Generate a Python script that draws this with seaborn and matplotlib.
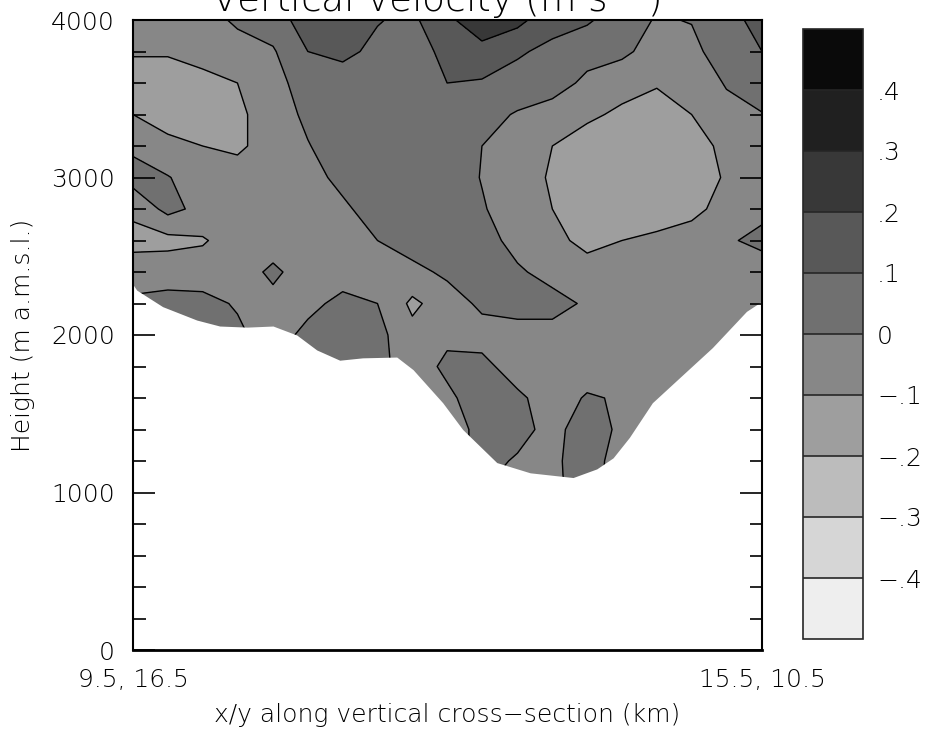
import numpy as np
import matplotlib
matplotlib.use("Agg")
import matplotlib.pyplot as plt
from matplotlib import font_manager
import seaborn as sns

# distance along the section (km) for the field columns
dist_km = [0.0, 0.47, 0.94, 1.41, 1.89, 2.36, 2.83, 3.30, 3.77, 4.24,
           4.71, 5.19, 5.66, 6.13, 6.60, 7.07, 7.54, 8.01, 8.49]
# heights of the field rows (m), bottom to top
height_m = [1000, 1200, 1400, 1600, 1800, 2000, 2200, 2400,
            2600, 2800, 3000, 3200, 3400, 3600, 3800, 4000]

# vertical velocity (m/s), rows listed from 4000 m down to 1000 m
w_4000 = [-0.05, -0.05, -0.05, 0.02, 0.05, 0.15, 0.17, 0.105, 0.08, 0.18, 0.26, 0.23, 0.13, 0.11, 0.06, -0.01, 0.005, 0.07, 0.13]
w_3800 = [-0.09, -0.09, -0.05, -0.05, -0.01, 0.10, 0.12, 0.08, 0.05, 0.13, 0.17, 0.11, 0.08, 0.05, 0.02, -0.04, -0.03, 0.06, 0.10]
w_3600 = [-0.15, -0.15, -0.14, -0.10, -0.03, 0.04, 0.06, 0.06, 0.07, 0.10, 0.09, 0.07, 0.06, -0.03, -0.06, -0.09, -0.08, 0.01, 0.06]
w_3400 = [-0.10, -0.15, -0.15, -0.12, -0.05, 0.02, 0.06, 0.07, 0.07, 0.07, 0.04, -0.01, -0.06, -0.08, -0.12, -0.15, -0.10, -0.04, -0.005]
w_3200 = [-0.02, -0.07, -0.10, -0.12, -0.05, -0.005, 0.05, 0.07, 0.07, 0.06, 0.0, -0.05, -0.10, -0.15, -0.15, -0.15, -0.15, -0.07, -0.03]
w_3000 = [0.04, 0.005, -0.05, -0.05, -0.05, -0.04, 0.03, 0.06, 0.07, 0.06, -0.005, -0.06, -0.11, -0.15, -0.15, -0.15, -0.15, -0.09, -0.05]
w_2800 = [-0.08, 0.03, -0.03, -0.05, -0.05, -0.05, -0.02, 0.05, 0.07, 0.07, 0.01, -0.06, -0.10, -0.15, -0.15, -0.15, -0.13, -0.06, -0.02]
w_2600 = [-0.13, -0.13, -0.11, -0.05, -0.05, -0.05, -0.05, 0.0, 0.05, 0.07, 0.06, -0.05, -0.08, -0.12, -0.10, -0.08, -0.05, -0.01, 0.02]
w_2400 = [-0.05, -0.04, -0.05, -0.05, 0.02, -0.05, -0.05, -0.05, -0.03, 0.02, 0.06, 0.02, -0.05, -0.07, -0.05, -0.05, -0.05, -0.05, -0.04]
w_2200 = [0.02, 0.03, 0.03, -0.01, -0.03, -0.03, 0.03, 0.0, -0.12, -0.05, 0.02, 0.05, 0.05, -0.02, -0.05, -0.05, -0.05, -0.04, -0.05]
w_2000 = [0.02, 0.02, 0.02, 0.02, -0.05, 0.03, 0.04, 0.03, -0.07, -0.02, -0.04, -0.05, -0.05, -0.05, -0.05, -0.05, -0.05, -0.05, -0.05]
w_1800 = [0.02, 0.02, 0.02, 0.02, -0.05, 0.03, 0.03, 0.03, -0.05, 0.02, 0.03, -0.05, -0.05, -0.05, -0.05, -0.05, -0.05, -0.05, -0.05]
w_1600 = [0.02, 0.02, 0.02, 0.02, -0.05, 0.03, 0.03, 0.03, -0.05, -0.02, 0.05, 0.02, -0.05, 0.01, -0.01, -0.05, -0.05, -0.05, -0.05]
w_1400 = [0.02, 0.02, 0.02, 0.02, -0.05, 0.03, 0.03, 0.03, -0.05, -0.05, 0.03, 0.03, -0.03, 0.05, -0.02, -0.05, -0.05, -0.05, -0.05]
w_1200 = [0.02, 0.02, 0.02, 0.02, -0.05, 0.03, 0.03, 0.03, -0.05, -0.05, 0.03, -0.01, -0.02, 0.05, -0.05, -0.05, -0.05, -0.05, -0.05]
w_1000 = [0.02, 0.02, 0.02, 0.02, -0.05, 0.03, 0.03, 0.03, -0.05, -0.05, 0.0, -0.02, -0.02, 0.04, -0.05, -0.05, -0.05, -0.05, -0.05]

# terrain profile along the section
terrain_km = [0.0, 0.05, 0.40, 0.86, 1.17, 1.54, 1.89, 2.21, 2.48, 2.79, 3.10, 3.56, 3.78,
              4.18, 4.45, 4.91, 5.36, 5.94, 6.26, 6.48, 6.70, 7.01, 7.38, 7.82, 8.28, 8.49]
terrain_m = [2320, 2285, 2180, 2095, 2057, 2050, 2057, 2000, 1905, 1840, 1855, 1860, 1780,
             1570, 1400, 1190, 1125, 1095, 1150, 1220, 1350, 1570, 1730, 1920, 2150, 2215]

levels = [-0.5, -0.4, -0.3, -0.2, -0.1, 0.0, 0.1, 0.2, 0.3, 0.4, 0.5]
level_colors = ['#eeeeee', '#d6d6d6', '#bcbcbc', '#9e9e9e', '#878787',
                '#707070', '#585858', '#383838', '#202020', '#0a0a0a']
cbar_ticks = [-0.4, -0.3, -0.2, -0.1, 0.0, 0.1, 0.2, 0.3, 0.4]
cbar_labels = ['\u2212.4', '\u2212.3', '\u2212.2', '\u2212.1', '0', '.1', '.2', '.3', '.4']
x_end_labels = ['9.5, 16.5', '15.5, 10.5']

sns.set_theme(style='white')

# thin lettering like the original plot: use a light face if one is installed
light_family, light_weight = 'DejaVu Sans', 'normal'
for fam in ['DejaVu Sans', 'Open Sans', 'Lato', 'Roboto', 'Inter', 'Noto Sans']:
    found = [f for f in font_manager.fontManager.ttflist
             if f.name == fam and isinstance(f.weight, int) and f.weight <= 300
             and f.style == 'normal']
    if found:
        light_family = fam
        light_weight = max(f.weight for f in found)
        break

plt.rcParams['font.family'] = [light_family, 'DejaVu Sans']
plt.rcParams['font.weight'] = light_weight
plt.rcParams['axes.labelweight'] = light_weight
plt.rcParams['mathtext.fontset'] = 'custom'
plt.rcParams['mathtext.rm'] = light_family
for key in ['text.color', 'axes.labelcolor', 'xtick.color', 'ytick.color']:
    plt.rcParams[key] = 'black'

w = np.array([w_1000, w_1200, w_1400, w_1600, w_1800, w_2000, w_2200, w_2400,
              w_2600, w_2800, w_3000, w_3200, w_3400, w_3600, w_3800, w_4000])
palette = sns.color_palette(level_colors)

W, H = 931, 733
fig = plt.figure(figsize=(W / 100, H / 100), dpi=100)
fig.patch.set_facecolor('white')
ax = fig.add_axes([133 / W, (H - 650) / H, 629 / W, 630 / H])
ax.set_facecolor('white')

cf = ax.contourf(dist_km, height_m, w, levels=levels, colors=palette)
ax.contour(dist_km, height_m, w, levels=levels, colors='black',
           linewidths=1.0, linestyles='solid')
ax.fill_between(terrain_km, 0, terrain_m, color='white', lw=0, zorder=3)

ax.set_xlim(dist_km[0], dist_km[-1])
ax.set_ylim(0, 4000)
ax.set_xticks([dist_km[0], dist_km[-1]])
ax.set_xticklabels(x_end_labels)
ax.set_yticks(np.arange(0, 4001, 1000))
ax.set_yticks(np.arange(0, 4001, 200), minor=True)
ax.tick_params(axis='x', length=0, pad=13, labelsize=18)
ax.tick_params(axis='y', which='major', direction='in', length=16, width=1.2,
               left=True, right=True, pad=13, labelsize=18)
ax.tick_params(axis='y', which='minor', direction='in', length=9, width=1.2,
               left=True, right=True)
ax.xaxis.set_zorder(5)
ax.yaxis.set_zorder(5)
for side, sp in ax.spines.items():
    sp.set_visible(True)
    sp.set_color('black')
    sp.set_linewidth(2.0 if side == 'bottom' else 1.5)
    sp.set_zorder(6)

ax.set_xlabel('x/y along vertical cross\u2212section (km)', fontsize=18,
              fontweight=light_weight, labelpad=8)
fig.text(23 / W, (H - 335) / H, 'Height (m a.m.s.l.)', rotation=90,
         ha='center', va='center', fontsize=18)
fig.text(436 / W, (H - 12) / H, 'Vertical velocity (m s$^{-1}$)',
         ha='center', va='baseline', fontsize=27)

cax = fig.add_axes([803 / W, (H - 639) / H, 60 / W, 610 / H])
cb = fig.colorbar(cf, cax=cax, ticks=cbar_ticks, drawedges=True)
cb.set_ticklabels(cbar_labels)
cb.ax.tick_params(length=0, pad=10, labelsize=18)
cb.outline.set_linewidth(1.2)
cb.dividers.set_linewidth(1.2)

fig.savefig('out.png', dpi=100, facecolor='white')
